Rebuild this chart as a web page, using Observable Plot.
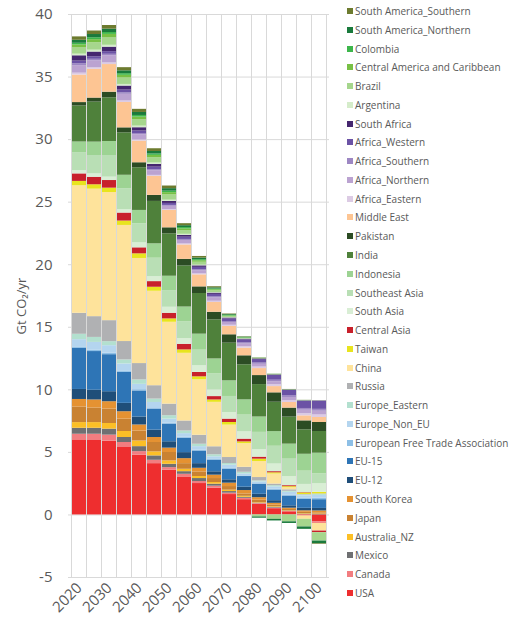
<!DOCTYPE html>
<html><head><meta charset="utf-8">
<script src="https://cdn.jsdelivr.net/npm/d3@7"></script>
<script src="https://cdn.jsdelivr.net/npm/@observablehq/plot@0.6"></script>
<style>
body{margin:0;background:#fff;font-family:"Open Sans",sans-serif;}
#wrap{position:relative;width:511px;height:624px;overflow:hidden;}
#chart{position:absolute;left:0;top:0;}
#legend{position:absolute;left:347px;top:0;}
.item{position:absolute;left:0;white-space:nowrap;font-size:10px;line-height:12px;color:#595959;display:flex;align-items:center;}
.sw{width:6px;height:6px;margin-right:2px;flex:none;}
</style></head><body><div id="wrap"><div id="chart"></div><div id="legend"></div></div>
<script>
const years = [2020,2025,2030,2035,2040,2045,2050,2055,2060,2065,2070,2075,2080,2085,2090,2095,2100];
const labelYears = [2020,2030,2040,2050,2060,2070,2080,2090,2100];
const yTicks = [-5,0,5,10,15,20,25,30,35,40];
const yLabel = "Gt CO₂/yr";

// series values (Gt CO2/yr), stacked from bottom to top in this order
const usa = [6.0,5.95,5.9,5.39,4.77,4.1,3.57,3.04,2.51,2.14,1.63,1.22,0.85,0.5,0.25,-0.08,-0.56];
const canada = [0.45,0.5,0.48,0.4,0.29,0.27,0.21,0.21,0.16,0.16,0.11,0.11,0.05,0.05,0.03,0.03,-0.12];
const mexico = [0.48,0.48,0.48,0.4,0.4,0.35,0.27,0.21,0.24,0.16,0.13,0.08,0.04,0.05,0.03,0.04,0.03];
const australiaNZ = [0.45,0.45,0.45,0.48,0.45,0.32,0.27,0.19,0.16,0.13,0.11,0.08,0.04,0.05,0.03,0.04,0.04];
const japan = [1.25,1.17,1.15,0.99,0.8,0.75,0.67,0.45,0.37,0.32,0.29,0.19,0.2,0.13,0.1,0.1,0.1];
const southKorea = [0.6,0.64,0.59,0.59,0.48,0.4,0.35,0.4,0.29,0.27,0.27,0.27,0.2,0.15,0.1,0.12,0.15];
const eu12 = [0.8,0.78,0.8,0.67,0.64,0.59,0.51,0.48,0.37,0.27,0.27,0.27,0.27,0.21,0.19,0.2,0.2];
const eu15 = [3.28,3.09,2.96,2.48,2.08,1.68,1.41,1.15,1.01,0.93,0.85,0.85,0.8,0.85,0.78,0.72,0.7];
const efta = [0.12,0.12,0.12,0.11,0.1,0.1,0.08,0.08,0.07,0.06,0.06,0.05,0.05,0.06,0.08,0.08,0.12];
const europeNonEU = [0.58,0.61,0.6,0.56,0.43,0.43,0.32,0.29,0.28,0.21,0.26,0.16,0.14,0.2,0.22,0.2,0.22];
const europeEastern = [0.43,0.4,0.32,0.32,0.35,0.27,0.27,0.21,0.19,0.16,0.13,0.13,0.08,0.09,0.08,0.06,0.08];
const russia = [1.68,1.66,1.68,1.47,1.31,1.07,0.93,0.8,0.72,0.64,0.48,0.4,0.27,0.13,0.12,0.04,0.04];
const china = [10.19,10.19,10.24,9.28,8.4,7.55,6.54,5.41,4.43,3.55,2.59,1.89,1.28,0.8,0.17,-0.27,-0.61];
const taiwan = [0.35,0.35,0.35,0.35,0.37,0.32,0.27,0.27,0.24,0.19,0.21,0.14,0.19,0.1,0.08,0.13,0.13];
const centralAsia = [0.6,0.6,0.61,0.64,0.48,0.45,0.45,0.45,0.35,0.27,0.27,0.22,0.16,0.09,0.08,0.03,-0.13];
const southAsia = [0.27,0.27,0.27,0.27,0.4,0.4,0.48,0.45,0.53,0.53,0.53,0.58,0.59,0.61,0.72,0.65,0.68];
const southeastAsia = [1.43,1.47,1.73,1.68,1.52,1.47,1.33,1.36,1.25,1.28,1.28,1.34,1.39,1.42,1.4,1.06,0.8];
const indonesia = [0.85,1.07,1.12,1.07,1.07,1.15,1.15,1.17,1.28,1.2,1.25,1.22,1.23,1.17,1.2,1.35,1.65];
const india = [2.88,3.2,3.49,3.39,3.41,3.39,3.39,3.28,3.25,3.12,3.01,2.8,2.59,2.35,2.16,1.95,1.73];
const pakistan = [0.27,0.32,0.45,0.4,0.4,0.48,0.48,0.53,0.53,0.61,0.67,0.72,0.72,0.75,0.72,0.72,0.72];
const middleEast = [2.2,2.3,2.21,2.03,1.73,1.52,1.39,1.15,0.96,0.78,0.67,0.61,0.56,0.5,0.45,0.4,0.4];
const africaEastern = [0.15,0.12,0.13,0.12,0.09,0.08,0.07,0.08,0.08,0.1,0.09,0.11,0.12,0.14,0.15,0.17,0.2];
const africaNorthern = [0.6,0.55,0.56,0.53,0.42,0.37,0.26,0.28,0.25,0.26,0.22,0.22,0.22,0.25,0.25,0.28,0.3];
const africaSouthern = [0.15,0.13,0.13,0.12,0.1,0.09,0.07,0.08,0.08,0.08,0.08,0.09,0.1,0.12,0.12,0.14,0.15];
const africaWestern = [0.22,0.2,0.21,0.22,0.2,0.2,0.16,0.18,0.19,0.21,0.2,0.24,0.28,0.38,0.44,0.58,0.66];
const southAfrica = [0.42,0.38,0.36,0.32,0.26,0.22,0.16,0.15,0.12,0.1,0.08,0.06,0.05,0.04,0.03,0.03,0.02];
const argentina = [0.13,0.15,0.15,0.13,0.13,0.11,0.1,0.08,0.06,0.04,0.03,0.02,0.01,0.01,0.01,0.01,0.01];
const brazil = [0.53,0.6,0.62,0.52,0.5,0.43,0.42,0.3,0.23,0.14,0.07,0.03,-0.16,-0.35,-0.55,-0.61,-0.67];
const centralAmerica = [0.21,0.24,0.25,0.21,0.22,0.18,0.18,0.14,0.12,0.09,0.06,0.04,0.03,0.02,0.02,0.01,0.01];
const colombia = [0.13,0.15,0.15,0.13,0.13,0.11,0.12,0.1,0.08,0.06,0.05,0.03,0.02,0.02,0.01,0.01,0.0];
const southAmericaNorthern = [0.24,0.26,0.27,0.23,0.24,0.2,0.2,0.15,0.13,0.09,0.06,0.04,-0.1,-0.13,-0.13,-0.19,-0.21];
const southAmericaSouthern = [0.27,0.28,0.29,0.25,0.25,0.22,0.21,0.16,0.13,0.09,0.05,0.03,0.02,0.01,0.01,0.01,-0.05];

const regions = ["USA","Canada","Mexico","Australia_NZ","Japan","South Korea","EU-12","EU-15",
  "European Free Trade Association","Europe_Non_EU","Europe_Eastern","Russia","China","Taiwan",
  "Central Asia","South Asia","Southeast Asia","Indonesia","India","Pakistan","Middle East",
  "Africa_Eastern","Africa_Northern","Africa_Southern","Africa_Western","South Africa",
  "Argentina","Brazil","Central America and Caribbean","Colombia","South America_Northern","South America_Southern"];
const seriesValues = [usa,canada,mexico,australiaNZ,japan,southKorea,eu12,eu15,efta,europeNonEU,
  europeEastern,russia,china,taiwan,centralAsia,southAsia,southeastAsia,indonesia,india,pakistan,
  middleEast,africaEastern,africaNorthern,africaSouthern,africaWestern,southAfrica,argentina,brazil,
  centralAmerica,colombia,southAmericaNorthern,southAmericaSouthern];
const colors = ["#ee2e2f","#f27d80","#6f7072","#fcbf26","#c98232","#e59232","#1f4e79","#2e75b6",
  "#8dbfe6","#b4d5ef","#b3e0cf","#b0b1b3","#fee39b","#e8e41e","#c8202b","#d9eed5","#b9dfb5",
  "#9dd393","#4f813b","#2c4c24","#fdc593","#dccbe4","#bba3d1","#9d87c3","#6b52a5","#45266f",
  "#d5ecca","#a6d68d","#78c045","#3db64b","#1a7a3c","#6d7b2f"];

const rows = [];
regions.forEach((r, k) => seriesValues[k].forEach((v, i) => rows.push({year: years[i], region: r, value: v})));

const chart = Plot.plot({
  width: 340, height: 624,
  marginLeft: 68, marginRight: 11, marginTop: 14, marginBottom: 47,
  style: {fontFamily: "Open Sans", fontSize: "15px", color: "#595959", background: "white"},
  x: {type: "band", domain: years, paddingInner: 0.1, paddingOuter: 0.05},
  y: {domain: [-5, 40]},
  color: {domain: regions, range: colors},
  marks: [
    Plot.ruleY(yTicks, {stroke: "#d9d9d9", strokeWidth: 1}),
    Plot.barY(rows, {x: "year", y: "value", fill: "region"}),
    Plot.axisY({ticks: yTicks, tickSize: 0, tickPadding: 16, fontSize: 15, label: null, tickFormat: d => String(d)}),
    Plot.axisX({ticks: labelYears, tickSize: 0, tickPadding: 8, tickRotate: -45, fontSize: 15, label: null, tickFormat: d => String(d)}),
    Plot.text([yLabel], {text: d => d, frameAnchor: "left", textAnchor: "middle", dx: -47, dy: 10, rotate: -90, fontSize: 13, fill: "#595959"})
  ]
});
document.getElementById("chart").appendChild(chart);

// vertical category gridlines at band boundaries, behind the bars
const xs = chart.scale("x");
const yS = chart.scale("y");
const x0 = xs.apply(years[0]), x1 = xs.apply(years[1]);
const step = x1 - x0;
const half = (step - xs.bandwidth) / 2;
const bounds = years.map(y => xs.apply(y) - half).concat([xs.apply(years[years.length-1]) + xs.bandwidth + half]);
const svgNode = chart;
const barGroup = svgNode.querySelector("g[aria-label='bar']");
const g = d3.create("svg:g").attr("aria-label", "x-grid");
g.selectAll("line").data(bounds).join("line")
  .attr("x1", d => d).attr("x2", d => d)
  .attr("y1", yS.apply(40)).attr("y2", yS.apply(-5))
  .attr("stroke", "#d9d9d9").attr("stroke-width", 1);
svgNode.insertBefore(g.node(), barGroup);

// legend (top to bottom = top of stack first)
const legend = d3.select("#legend");
const legendOrder = regions.map((r, k) => ({r, c: colors[k]})).reverse();
const legendTop = 11, legendStep = 18.77;
legendOrder.forEach((d, i) => {
  const it = legend.append("div").attr("class", "item").style("top", (legendTop + i * legendStep - 6) + "px");
  it.append("div").attr("class", "sw").style("background", d.c);
  it.append("span").text(d.r);
});
</script>
</body></html>
